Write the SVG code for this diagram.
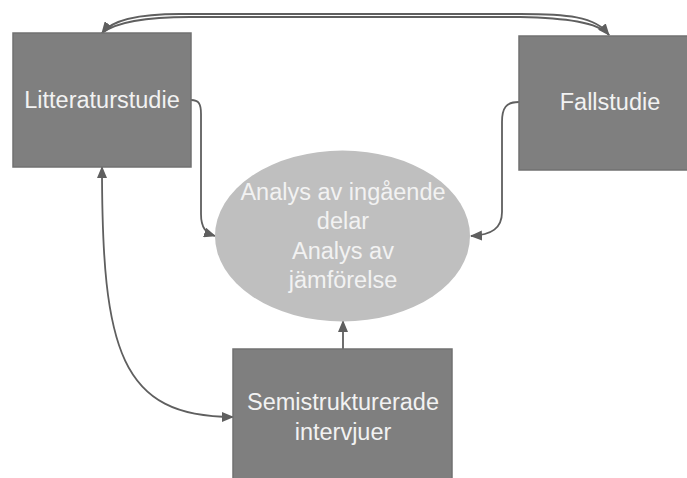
<svg xmlns="http://www.w3.org/2000/svg" width="687" height="478" viewBox="0 0 687 478">
<style>
.box{fill:#7f7f7f;stroke:#717171;stroke-width:1.5}
.ell{fill:#bfbfbf}
.t{font-family:"Liberation Sans",Arial,sans-serif;font-size:23.5px;fill:#f2f2f2;text-anchor:middle}
.c{fill:none;stroke:#5f5f5f;stroke-width:1.8}
</style>
<defs>
<marker id="ah" viewBox="0 0 12 10" refX="11" refY="5" markerWidth="12" markerHeight="10" markerUnits="userSpaceOnUse" orient="auto-start-reverse">
<path d="M0,0 L12,5 L0,10 z" fill="#5f5f5f"/>
</marker>
</defs>
<rect width="687" height="478" fill="#ffffff"/>
<g id="connectors">
<path class="c" d="M609,35 C596,16 565,14 520,14 L180,14 C140,14 112,20 102,33" marker-end="url(#ah)"/>
<path class="c" d="M102,33 C116,22 145,17 190,17 L520,17 C565,18 598,22 609,35" marker-end="url(#ah)"/>
<path class="c" d="M191,100 C199,100 201,104 201,114 L201,214 C201,228 206,233 215,236" marker-end="url(#ah)"/>
<path class="c" d="M519,102 C506,102 502,108 502,122 L502,212 C502,228 492,235 471,236" marker-end="url(#ah)"/>
<path class="c" d="M343,349 L343,321" marker-end="url(#ah)"/>
<path class="c" d="M102,167 C102,350 120,417 233,417" marker-start="url(#ah)" marker-end="url(#ah)"/>
</g>
<g id="litteraturstudie">
<rect class="box" x="13" y="33" width="178" height="134"/>
<text class="t" x="102" y="108">Litteraturstudie</text>
</g>
<g id="fallstudie">
<rect class="box" x="519" y="36" width="182" height="134"/>
<text class="t" x="610" y="110">Fallstudie</text>
</g>
<g id="analys">
<ellipse class="ell" cx="342.5" cy="236" rx="127.5" ry="85.5"/>
<text class="t" x="343" y="200">Analys av ingående</text>
<text class="t" x="343" y="229">delar</text>
<text class="t" x="343" y="259">Analys av</text>
<text class="t" x="343" y="288">jämförelse</text>
</g>
<g id="semistrukturerade">
<rect class="box" x="233" y="349" width="219" height="140"/>
<text class="t" x="343" y="410">Semistrukturerade</text>
<text class="t" x="343" y="440">intervjuer</text>
</g>
</svg>
